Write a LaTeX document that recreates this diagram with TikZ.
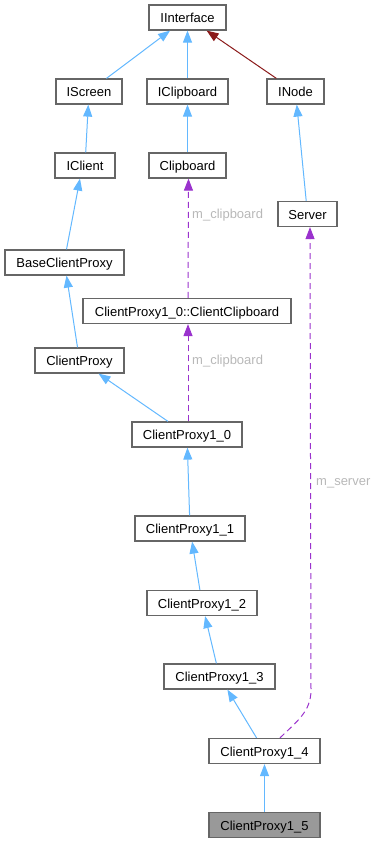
\documentclass[tikz,border=0pt]{standalone}
\usepackage{fontspec}
\setmainfont{Liberation Sans}
\usetikzlibrary{arrows.meta}
\definecolor{edgeblue}{HTML}{63B8FF}
\definecolor{edgepurple}{HTML}{9A32CD}
\definecolor{edgered}{HTML}{8B1A1A}
\definecolor{boxgray}{HTML}{666666}
\definecolor{labelgray}{HTML}{B8B8B8}
\definecolor{curfill}{HTML}{999999}
\begin{document}
\begin{tikzpicture}[x=1pt,y=-1pt,
  cls/.style={draw=boxgray,line width=1.2pt,fill=white,inner sep=0pt,minimum height=25pt,text height=10pt,text depth=0pt,font=\fontsize{13}{15}\selectfont},
  inh/.style={draw=edgeblue,line width=1pt,-{Triangle[length=12pt,width=9pt]}},
  inhred/.style={draw=edgered,line width=1pt,-{Triangle[length=12pt,width=9pt]}},
  use/.style={draw=edgepurple,line width=1pt,dash pattern=on 6pt off 4pt,-{Triangle[length=12pt,width=9pt]}},
  lbl/.style={text=labelgray,font=\fontsize{13}{15}\selectfont,inner sep=0pt,anchor=west}]
\useasboundingbox (0,0) rectangle (379,843);
\node[cls,minimum width=77pt] (IInterface) at (187.5,17.5) {IInterface};
\node[cls,minimum width=66pt] (IScreen) at (89,91.5) {IScreen};
\node[cls,minimum width=81pt] (IClipboard) at (187.5,91.5) {IClipboard};
\node[cls,minimum width=57pt] (INode) at (295.5,91.5) {INode};
\node[cls,minimum width=60pt] (IClient) at (85,165.5) {IClient};
\node[cls,minimum width=77pt] (Clipboard) at (187.5,165.5) {Clipboard};
\node[cls,minimum width=59pt] (Server) at (307.5,214) {Server};
\node[cls,minimum width=119pt] (BaseClientProxy) at (64.5,262.5) {BaseClientProxy};
\node[cls,minimum width=208pt] (CClip) at (187,311) {ClientProxy1\_0::ClientClipboard};
\node[cls,minimum width=89pt] (ClientProxy) at (79.5,360.5) {ClientProxy};
\node[cls,minimum width=110pt] (CP10) at (187,434.5) {ClientProxy1\_0};
\node[cls,minimum width=110pt] (CP11) at (190,528.5) {ClientProxy1\_1};
\node[cls,minimum width=110pt] (CP12) at (202,603) {ClientProxy1\_2};
\node[cls,minimum width=111pt] (CP13) at (219.5,676.5) {ClientProxy1\_3};
\node[cls,minimum width=111pt] (CP14) at (264.5,751) {ClientProxy1\_4};
\node[cls,minimum width=111pt,fill=curfill] (CP15) at (264.5,825) {ClientProxy1\_5};
% inheritance
\draw[inh] (IScreen) -- (IInterface);
\draw[inh] (IClipboard) -- (IInterface);
\draw[inhred] (INode) -- (IInterface);
\draw[inh] (IClient) -- (IScreen);
\draw[inh] (Clipboard) -- (IClipboard);
\draw[inh] (Server) -- (INode);
\draw[inh] ([xshift=2pt]BaseClientProxy.north) -- ([xshift=-5pt]IClient.south);
\draw[inh] (ClientProxy) -- (BaseClientProxy);
\draw[inh] (CP10) -- (ClientProxy);
\draw[inh] (CP11) -- (CP10);
\draw[inh] (CP12) -- (CP11);
\draw[inh] (CP13) -- (CP12);
\draw[inh] (CP14) -- (CP13);
\draw[inh] (CP15) -- (CP14);
% usage
\draw[use] ([xshift=1pt]CClip.north) -- ([xshift=1pt]Clipboard.south);
\draw[use] ([xshift=1pt]CP10.north) -- ([xshift=1pt]CClip.south);
\coordinate (bend) at (311,690);
\draw[use] ([xshift=15.5pt]CP14.north) .. controls (296,722) and (311,712) .. (bend) -- ([xshift=2.5pt]Server.south);
% labels
\node[lbl] (L1) at (192,215) {m\_clipboard};
\node[lbl] (L2) at (192,361) {m\_clipboard};
\node[lbl] (L3) at (316,483) {m\_server};
\end{tikzpicture}
\end{document}
